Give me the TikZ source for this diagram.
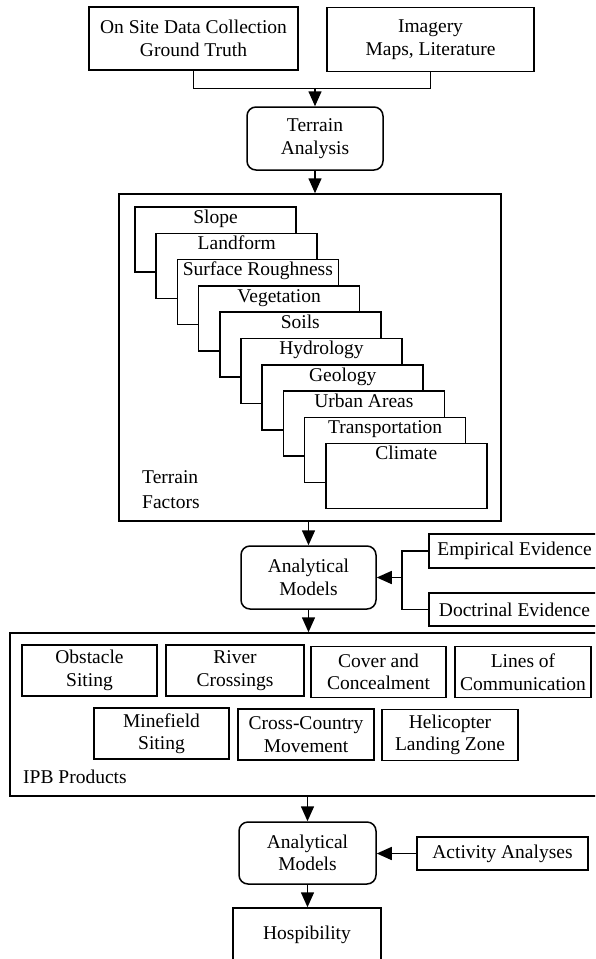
\documentclass[tikz,border=0pt]{standalone}
\usepackage{fontspec}
\setmainfont{Liberation Serif}
\usetikzlibrary{arrows.meta}
\tikzset{
  base/.style={draw, line width=1.5pt, fill=white, inner sep=0pt, align=center},
  sq/.style={base},
  rnd/.style={base, rounded corners=9pt},
  arr/.style={line width=1.5pt, -{Triangle[length=15pt,width=13pt]}},
  ln/.style={line width=1.5pt},
}
\begin{document}
\begin{tikzpicture}[x=1pt, y=-1pt, font=\fontsize{19.5}{22.5}\selectfont]
\useasboundingbox (0,0) rectangle (595,959);
\fill[white] (0,0) rectangle (595,959);
\clip (0,0) rectangle (595,959);

% sources
\node[sq, minimum width=209pt, minimum height=63pt] (src1) at (193.5,38.5) {On Site Data Collection\\Ground Truth};
\node[sq, minimum width=207pt, minimum height=64pt] (src2) at (430.5,39.5) {Imagery\\Maps, Literature};
\node[rnd, minimum width=136pt, minimum height=63pt] (ta) at (315,138.5) {Terrain\\Analysis};

\path (ta.north) ++(0,-18) coordinate (j);
\draw[ln] (src1.south) |- (j) -| (src2.south);
\draw[arr] (j) -- (ta.north);

% terrain factors
\node[sq, minimum width=382pt, minimum height=327pt] (tf) at (310,357.5) {};
\draw[arr] (ta.south) -- (ta.south |- tf.north);
\foreach \t [count=\i from 0] in {Slope,Landform,Surface Roughness,Vegetation,Soils,Hydrology,Geology,Urban Areas,Transportation,Climate} {
  \pgfmathsetmacro\xx{135+21.2*\i+80.5}
  \pgfmathsetmacro\yy{207+26.3*\i+32.5}
  \node[sq, minimum width=161pt, minimum height=65pt] (f\i) at (\xx,\yy) {};
  \node[anchor=base, inner sep=0pt] (fl\i) at ([yshift=-17pt]f\i.north) {\t};
}
\node[anchor=west, align=left, inner sep=0pt, font=\fontsize{19.5}{25}\selectfont] (tfl) at (142,489.5) {Terrain\\Factors};

% analytical models 1
\node[rnd, minimum width=135pt, minimum height=63pt] (am1) at (308.5,577.5) {Analytical\\Models};
\draw[arr] (am1.north |- tf.south) -- (am1.north);
\node[sq, minimum width=171pt, minimum height=34pt] (emp) at (514.5,551) {Empirical Evidence};
\node[sq, minimum width=171pt, minimum height=33pt] (doc) at (514.5,609.5) {Doctrinal Evidence};
\path (am1.east) ++(25,0) coordinate (vj);
\draw[ln] (emp.west) -| (vj) |- (doc.west);
\draw[arr] (vj) -- (am1.east);

% IPB products
\node[sq, minimum width=595pt, minimum height=163pt] (ipb) at (307.5,714.5) {};
\draw[arr] (am1.south) -- (am1.south |- ipb.north);
\node[sq, minimum width=135pt, minimum height=51pt] (p1) at (89.5,670.5) {Obstacle\\Siting};
\node[sq, minimum width=138pt, minimum height=51pt] (p2) at (235,670.5) {River\\Crossings};
\node[sq, minimum width=135pt, minimum height=51pt] (p3) at (378.5,672) {Cover and\\Concealment};
\node[sq, minimum width=136pt, minimum height=51pt] (p4) at (523,672) {Lines of\\Communication};
\node[sq, minimum width=135pt, minimum height=51pt] (p5) at (161.5,733.5) {Minefield\\Siting};
\node[sq, minimum width=136pt, minimum height=51pt] (p6) at (306,734.5) {Cross-Country\\Movement};
\node[sq, minimum width=136pt, minimum height=51pt] (p7) at (450,735) {Helicopter\\Landing Zone};
\node[anchor=west, inner sep=0pt] (ipbl) at (23,777) {IPB Products};

% analytical models 2
\node[rnd, minimum width=137pt, minimum height=62pt] (am2) at (307.5,853) {Analytical\\Models};
\draw[arr] (am2.north |- ipb.south) -- (am2.north);
\node[sq, minimum width=171pt, minimum height=33pt] (act) at (502.5,853.5) {Activity Analyses};
\draw[arr] (act.west) -- (am2.east |- act.west);
\node[sq, minimum width=148pt, minimum height=54pt] (hosp) at (307,935) {Hospibility};
\draw[arr] (am2.south) -- (am2.south |- hosp.north);
\end{tikzpicture}
\end{document}
